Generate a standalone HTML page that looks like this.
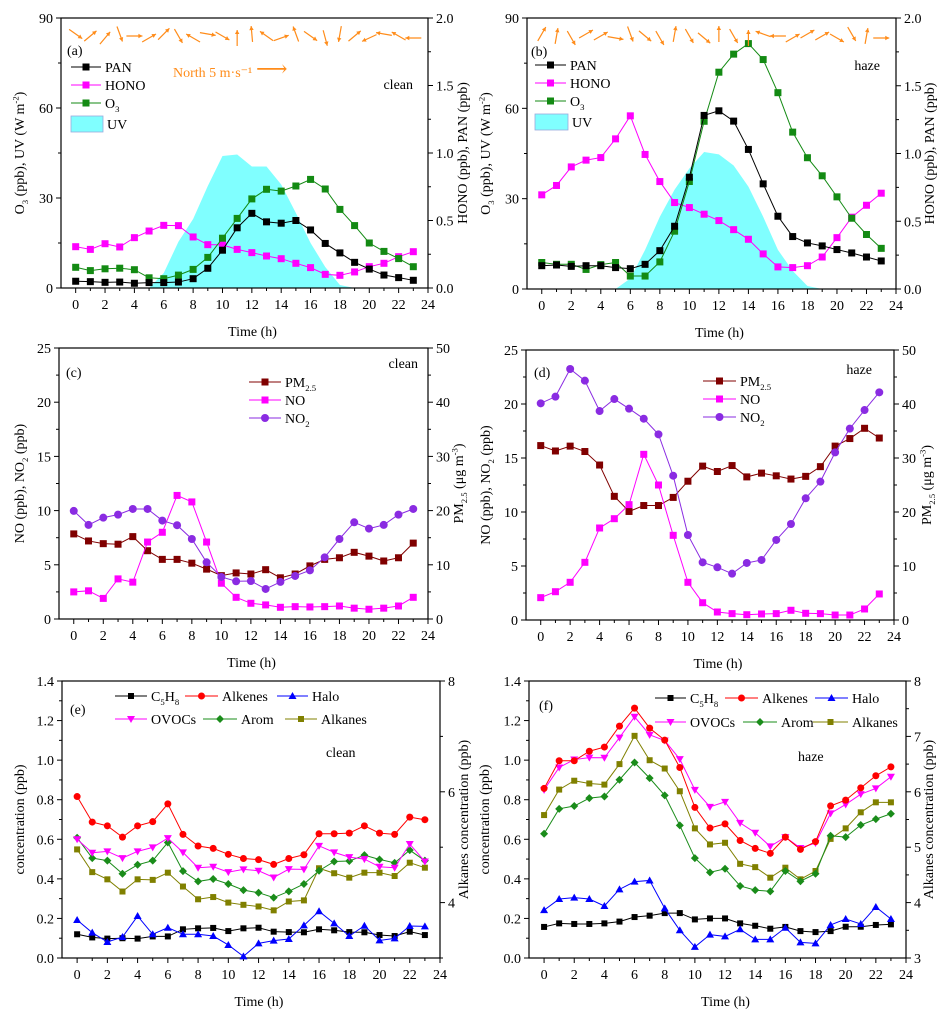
<!DOCTYPE html>
<html><head><meta charset="utf-8"><title>Diurnal profiles clean vs haze</title>
<style>
html,body{margin:0;padding:0;background:#fff;}
svg{display:block;font-family:"Liberation Serif","DejaVu Serif",serif;}
</style></head>
<body>
<svg id="fig" xmlns="http://www.w3.org/2000/svg" width="951" height="1018" viewBox="0 0 951 1018"></svg>
<script>
// ---------- data ----------
const hours = [0,1,2,3,4,5,6,7,8,9,10,11,12,13,14,15,16,17,18,19,20,21,22,23];
const uvHours = [5,6,7,8,9,10,11,12,13,14,15,16,17,18,19];
// panel a (clean)
const aPAN = [0.05,0.047,0.042,0.044,0.035,0.04,0.04,0.044,0.069,0.146,0.28,0.446,0.553,0.49,0.48,0.5,0.43,0.33,0.26,0.19,0.14,0.096,0.077,0.057];
const aHONO = [0.306,0.286,0.328,0.304,0.373,0.422,0.464,0.462,0.378,0.321,0.319,0.286,0.262,0.237,0.217,0.183,0.151,0.101,0.094,0.119,0.158,0.183,0.232,0.269];
const aO3 = [6.9,5.8,6.4,6.6,6.1,3.4,3.1,4.3,6.2,10.2,16.6,23.2,29.7,32.9,32.3,34,36.2,33,26.2,20.8,15,12.2,9.8,7.1];
const aUV = [0,5,15.4,23,34,44,44.5,40.5,40.5,34.5,25,15,7,1,0];
const aWind = [35,-40,-50,70,0,-30,-45,60,-150,10,30,-90,-95,-145,-20,-110,35,75,100,-40,155,-170,-150,180];
// panel b (haze)
const bPAN = [0.172,0.177,0.167,0.172,0.172,0.158,0.15,0.182,0.283,0.463,0.825,1.281,1.315,1.239,1.03,0.776,0.537,0.387,0.34,0.318,0.291,0.266,0.236,0.207];
const bHONO = [0.695,0.764,0.901,0.951,0.97,1.108,1.278,0.993,0.793,0.638,0.601,0.552,0.505,0.438,0.367,0.259,0.163,0.158,0.172,0.236,0.379,0.53,0.618,0.707];
const bO3 = [8.8,8.2,8.2,6.5,8.1,8.8,4.3,4.3,9.0,19.2,35.7,55.7,72,78,81.5,76.2,65.2,52.1,43.6,37.6,30.6,23.5,18.1,13.5];
const bUV = [0,3.5,13,24,33,40,45.5,44.7,41,34,24,13,6,1,0];
const bWind = [-60,-80,60,-30,-30,10,70,40,60,-80,60,40,-90,60,-90,-160,180,-30,-30,-30,30,60,-80,0];
// panel c (clean)
const cPM = [15.7,14.4,13.9,13.8,15.2,12.6,11,11,10.3,9.2,8,8.5,8.3,9.1,7.6,8.3,9.8,11,11.3,12.3,11.6,10.7,11.3,14];
const cNO = [2.5,2.6,1.9,3.7,3.4,7.1,8,11.4,10.8,7.1,3.3,2.0,1.45,1.3,1.08,1.14,1.11,1.14,1.2,1.0,0.9,1.0,1.2,2.0];
const cNO2 = [9.97,8.68,9.35,9.63,10.15,10.15,9.08,8.65,7.38,5.23,3.88,3.48,3.5,2.77,3.42,3.97,4.49,5.69,7.38,8.92,8.34,8.68,9.63,10.15];
// panel d (haze)
const dPM = [32.3,31.3,32.2,31.2,28.7,22.9,20.1,21.2,21.2,22.7,25.7,28.5,27.5,28.6,26.5,27.2,26.7,26.1,26.6,28.4,32.2,33.6,35.5,33.7];
const dNO = [2.07,2.62,3.49,5.34,8.52,9.38,10.68,15.34,12.5,7.84,3.49,1.6,0.74,0.59,0.49,0.56,0.59,0.9,0.62,0.59,0.46,0.46,1.02,2.41];
const dNO2 = [20.06,20.68,23.24,22.16,19.35,20.46,19.57,18.64,17.19,13.36,7.87,5.34,4.88,4.29,5.28,5.56,7.41,8.89,11.27,12.81,15.52,17.72,19.44,21.08];
// panel e (clean VOCs)
const eC5H8 = [0.12,0.104,0.098,0.1,0.098,0.109,0.109,0.145,0.15,0.152,0.136,0.15,0.153,0.133,0.131,0.13,0.145,0.14,0.131,0.13,0.116,0.111,0.133,0.116];
const eAlkenes = [0.816,0.687,0.668,0.611,0.668,0.689,0.779,0.625,0.566,0.554,0.524,0.503,0.497,0.473,0.503,0.522,0.628,0.628,0.631,0.668,0.631,0.625,0.712,0.699];
const eHalo = [0.192,0.128,0.081,0.106,0.212,0.12,0.153,0.12,0.12,0.111,0.066,0.008,0.074,0.088,0.096,0.165,0.236,0.175,0.111,0.163,0.089,0.099,0.162,0.16];
const eOVOCs = [0.6,0.532,0.539,0.505,0.539,0.559,0.606,0.534,0.456,0.461,0.434,0.448,0.441,0.407,0.449,0.448,0.567,0.534,0.51,0.5,0.461,0.456,0.576,0.488];
const eArom = [0.608,0.505,0.492,0.426,0.471,0.492,0.584,0.439,0.387,0.399,0.374,0.343,0.33,0.305,0.337,0.374,0.441,0.488,0.49,0.52,0.498,0.481,0.545,0.492];
const eAlkanes = [4.96,4.55,4.42,4.2,4.42,4.41,4.54,4.29,4.06,4.1,4.0,3.96,3.93,3.86,4.02,4.04,4.62,4.53,4.45,4.54,4.54,4.48,4.72,4.63];
// panel f (haze VOCs)
const fC5H8 = [0.157,0.175,0.172,0.172,0.175,0.184,0.207,0.214,0.227,0.227,0.195,0.2,0.2,0.175,0.163,0.148,0.157,0.136,0.131,0.136,0.158,0.158,0.167,0.17];
const fAlkenes = [0.857,0.997,0.997,1.045,1.066,1.172,1.263,1.162,1.101,0.963,0.761,0.657,0.678,0.594,0.554,0.529,0.611,0.549,0.588,0.769,0.798,0.86,0.921,0.966];
const fHalo = [0.242,0.298,0.305,0.298,0.263,0.347,0.386,0.392,0.251,0.14,0.056,0.118,0.109,0.145,0.094,0.094,0.153,0.079,0.074,0.167,0.197,0.172,0.258,0.197];
const fOVOCs = [0.85,0.963,1.003,1.013,1.012,1.114,1.219,1.128,1.099,1.005,0.85,0.764,0.789,0.683,0.633,0.564,0.611,0.556,0.581,0.731,0.776,0.828,0.857,0.916];
const fArom = [0.628,0.754,0.768,0.808,0.816,0.901,0.988,0.909,0.822,0.67,0.505,0.433,0.451,0.364,0.343,0.337,0.44,0.388,0.426,0.618,0.611,0.672,0.702,0.729];
const fAlkanes = [5.58,6.04,6.2,6.15,6.13,6.5,7.01,6.57,6.42,6.01,5.34,5.05,5.08,4.7,4.64,4.45,4.63,4.42,4.57,5.15,5.34,5.63,5.81,5.81];
const xTicks = [0,2,4,6,8,10,12,14,16,18,20,22,24];

// ---------- drawing ----------
const NS = "http://www.w3.org/2000/svg";
const svg = document.getElementById('fig');
function mk(tag, attrs, name, parent) {
  const el = document.createElementNS(NS, tag);
  for (const k in attrs) el.setAttribute(k, attrs[k]);
  
  
  (parent || svg).appendChild(el);
  return el;
}
function rich(parent, x, y, parts, size, attrs, name) {
  const t = mk('text', Object.assign({x: x, y: y, 'font-size': size}, attrs || {}), name, parent);
  parts.forEach(p => {
    const s = document.createElementNS(NS, 'tspan');
    if (p[1] === 'sub') { s.setAttribute('font-size', size * 0.62); s.setAttribute('dy', size * 0.3); }
    else if (p[1] === 'sup') { s.setAttribute('font-size', size * 0.62); s.setAttribute('dy', -size * 0.4); }
    else if (p[1] === 'back') { s.setAttribute('dy', p[2]); }
    s.textContent = p[0];
    t.appendChild(s);
  });
  return t;
}
function marker(g, type, x, y, s, color, name) {
  const h = s / 2;
  if (type === 'sq') return mk('rect', {x: x - h, y: y - h, width: s, height: s, fill: color}, name, g);
  if (type === 'ci') return mk('circle', {cx: x, cy: y, r: h + 0.5, fill: color}, name, g);
  if (type === 'tu') return mk('polygon', {points: `${x},${y - h - 1} ${x - h - 1},${y + h} ${x + h + 1},${y + h}`, fill: color}, name, g);
  if (type === 'td') return mk('polygon', {points: `${x},${y + h + 1} ${x - h - 1},${y - h} ${x + h + 1},${y - h}`, fill: color}, name, g);
  if (type === 'di') return mk('polygon', {points: `${x},${y - h - 1} ${x + h + 1},${y} ${x},${y + h + 1} ${x - h - 1},${y}`, fill: color}, name, g);
}
function fmt(v, d) { return d ? v.toFixed(d) : String(v); }

function panel(cfg) {
  const g = mk('g', {}, cfg.id, svg);
  const sx = v => cfg.L + (v - (-1)) / 25 * (cfg.R - cfg.L);
  const syL = v => cfg.B - (v - cfg.lmin) / (cfg.lmax - cfg.lmin) * (cfg.B - cfg.T);
  const syR = v => cfg.B - (v - cfg.rmin) / (cfg.rmax - cfg.rmin) * (cfg.B - cfg.T);
  // UV area
  if (cfg.uv) {
    let d = `M${sx(uvHours[0])},${syL(0)}`;
    uvHours.forEach((h, i) => { d += ` L${sx(h)},${syL(cfg.uv[i])}`; });
    d += ` L${sx(uvHours[uvHours.length - 1])},${syL(0)} Z`;
    mk('path', {d: d, fill: '#80ffff', stroke: 'none'}, 'uv-area', g);
  }
  // frame
  mk('rect', {x: cfg.L, y: cfg.T, width: cfg.R - cfg.L, height: cfg.B - cfg.T, fill: 'none', stroke: '#000', 'stroke-width': 1.2}, 'plot-frame', g);
  // x ticks
  for (let h = 0; h <= 24; h++) {
    const major = h % 2 === 0;
    mk('line', {x1: sx(h), x2: sx(h), y1: cfg.B, y2: cfg.B + (major ? 5 : 3), stroke: '#000', 'stroke-width': 1}, 'x-tick', g);
  }
  xTicks.forEach(t => {
    const el = mk('text', {x: sx(t), y: cfg.B + 21, 'font-size': 14, 'text-anchor': 'middle'}, 'x-tick-label', g);
    el.textContent = t;
  });
  const xt = mk('text', {x: (cfg.L + cfg.R) / 2 + 8, y: cfg.B + 48, 'font-size': 14, 'text-anchor': 'middle', 'font-weight': 'normal'}, 'x-axis-title', g);
  xt.textContent = 'Time (h)';
  // left ticks
  for (let v = cfg.lmin; v <= cfg.lmax + 1e-9; v += cfg.lminor) {
    const isMaj = Math.abs(Math.round((v - cfg.lmin) / cfg.lstep) * cfg.lstep - (v - cfg.lmin)) < 1e-6;
    mk('line', {x1: cfg.L, x2: cfg.L - (isMaj ? 5 : 3), y1: syL(v), y2: syL(v), stroke: '#000'}, 'y-left-tick', g);
    if (isMaj) {
      const el = mk('text', {x: cfg.L - 8, y: syL(v) + 5, 'font-size': 14, 'text-anchor': 'end'}, 'y-left-tick-label', g);
      el.textContent = fmt(v, cfg.ldec);
    }
  }
  for (let v = cfg.rmin; v <= cfg.rmax + 1e-9; v += cfg.rminor) {
    const isMaj = cfg.rlabels.some(l => Math.abs(l - v) < 1e-6);
    mk('line', {x1: cfg.R, x2: cfg.R + (isMaj ? 5 : 3), y1: syR(v), y2: syR(v), stroke: '#000'}, 'y-right-tick', g);
    if (isMaj) {
      const el = mk('text', {x: cfg.R + 8, y: syR(v) + 5, 'font-size': 14}, 'y-right-tick-label', g);
      el.textContent = fmt(v, cfg.rdec);
    }
  }
  // axis titles
  rich(g, 0, 0, cfg.ltitle, 14, {transform: `translate(${cfg.ltx},${(cfg.T + cfg.B) / 2}) rotate(-90)`, 'text-anchor': 'middle'}, 'y-left-axis-title');
  rich(g, 0, 0, cfg.rtitle, 14, {transform: `translate(${cfg.rtx},${(cfg.T + cfg.B) / 2}) rotate(-90)`, 'text-anchor': 'middle'}, 'y-right-axis-title');
  // series
  cfg.series.forEach(s => {
    const sy = s.axis === 'r' ? syR : syL;
    const pts = hours.map((h, i) => `${sx(h)},${sy(s.data[i])}`).join(' ');
    const sg = mk('g', {}, s.name + '-series', g);
    mk('polyline', {points: pts, fill: 'none', stroke: s.color, 'stroke-width': 1}, s.name + '-line', sg);
    hours.forEach((h, i) => marker(sg, s.mk, sx(h), sy(s.data[i]), cfg.ms, s.color, s.name + '-point'));
  });
  // wind arrows
  if (cfg.wind) {
    const wg = mk('g', {}, 'wind-arrows', g);
    hours.forEach((h, i) => {
      const a = cfg.wind[i] * Math.PI / 180, len = 8;
      const cx = sx(h), cy = cfg.T + 16 + (i % 3) * 2;
      const x1 = cx - Math.cos(a) * len, y1 = cy - Math.sin(a) * len, x2 = cx + Math.cos(a) * len, y2 = cy + Math.sin(a) * len;
      mk('line', {x1: x1, y1: y1, x2: x2, y2: y2, stroke: '#ff8c1a', 'stroke-width': 1.2}, 'wind-arrow', wg);
      const hx = x2 - Math.cos(a) * 4, hy = y2 - Math.sin(a) * 4;
      mk('polygon', {points: `${x2},${y2} ${hx - Math.sin(a) * 2.2},${hy + Math.cos(a) * 2.2} ${hx + Math.sin(a) * 2.2},${hy - Math.cos(a) * 2.2}`, fill: '#ff8c1a'}, 'wind-arrow-head', wg);
    });
  }
  // legend
  cfg.legend.forEach(l => {
    const lg = mk('g', {}, 'legend-entry', g);
    if (l.box) {
      mk('rect', {x: l.x1, y: l.y - 8, width: l.x2 - l.x1, height: 16, fill: '#80ffff', stroke: '#9ad', 'stroke-width': 0.8}, 'legend-swatch', lg);
    } else {
      mk('line', {x1: l.x1, x2: l.x2, y1: l.y, y2: l.y, stroke: l.color}, 'legend-line', lg);
      marker(lg, l.mk, (l.x1 + l.x2) / 2, l.y, cfg.ms, l.color, 'legend-marker');
    }
    rich(lg, l.x2 + 4, l.y + 5, l.label, 14, {}, 'legend-label');
  });
  // annotations
  cfg.notes.forEach(n => {
    const el = mk('text', {x: n.x, y: n.y, 'font-size': n.size || 14, 'text-anchor': n.anchor || 'start', fill: n.color || '#000'}, n.name, g);
    el.textContent = n.text;
  });
}

const O3T = [['O'], ['3', 'sub'], [' (ppb), UV (W m', 'back', -4.3], ['-2', 'sup'], [')', 'back', 5.6]];
const HPT = [['HONO (ppb), PAN (ppb)']];
const NOT = [['NO (ppb), NO'], ['2', 'sub'], [' (ppb)', 'back', -4.3]];
const PMT = [['PM'], ['2.5', 'sub'], [' (μg m', 'back', -4.3], ['-3', 'sup'], [')', 'back', 5.6]];
const CT = [['concentration (ppb)']];
const AKT = [['Alkanes concentration (ppb)']];
function legAB(x1, x2, y0) {
  return [
    {x1: x1, x2: x2, y: y0, color: '#000', mk: 'sq', label: [['PAN']]},
    {x1: x1, x2: x2, y: y0 + 18, color: '#ff00ff', mk: 'sq', label: [['HONO']]},
    {x1: x1, x2: x2, y: y0 + 36, color: '#138a13', mk: 'sq', label: [['O'], ['3', 'sub']]},
    {x1: x1, x2: x2 + 2, y: y0 + 57, box: true, label: [['UV']]}
  ];
}
function legCD(x1, x2, y0) {
  return [
    {x1: x1, x2: x2, y: y0, color: '#800000', mk: 'sq', label: [['PM'], ['2.5', 'sub']]},
    {x1: x1, x2: x2, y: y0 + 18, color: '#ff00ff', mk: 'sq', label: [['NO']]},
    {x1: x1, x2: x2, y: y0 + 36, color: '#8a2be2', mk: 'ci', label: [['NO'], ['2', 'sub']]}
  ];
}
function legEF(c, r1, r2) {
  return [
    {x1: c[0], x2: c[1], y: r1, color: '#000', mk: 'sq', label: [['C'], ['5', 'sub'], ['H', 'back', -4.3], ['8', 'sub']]},
    {x1: c[2], x2: c[3], y: r1, color: '#ff0000', mk: 'ci', label: [['Alkenes']]},
    {x1: c[4], x2: c[5], y: r1, color: '#0000ff', mk: 'tu', label: [['Halo']]},
    {x1: c[0], x2: c[1], y: r2, color: '#ff00ff', mk: 'td', label: [['OVOCs']]},
    {x1: c[6], x2: c[7], y: r2, color: '#1a8c1a', mk: 'di', label: [['Arom']]},
    {x1: c[8], x2: c[9], y: r2, color: '#808000', mk: 'sq', label: [['Alkanes']]}
  ];
}
function abSeries(pan, hono, o3) {
  return [
    {name: 'hono', data: hono, axis: 'r', color: '#ff00ff', mk: 'sq'},
    {name: 'o3', data: o3, axis: 'l', color: '#138a13', mk: 'sq'},
    {name: 'pan', data: pan, axis: 'r', color: '#000', mk: 'sq'}
  ];
}
function cdSeries(pm, no, no2) {
  return [
    {name: 'pm25', data: pm, axis: 'r', color: '#800000', mk: 'sq'},
    {name: 'no', data: no, axis: 'l', color: '#ff00ff', mk: 'sq'},
    {name: 'no2', data: no2, axis: 'l', color: '#8a2be2', mk: 'ci'}
  ];
}
function efSeries(c5, ak, ha, ov, ar, al) {
  return [
    {name: 'alkanes', data: al, axis: 'r', color: '#808000', mk: 'sq'},
    {name: 'arom', data: ar, axis: 'l', color: '#1a8c1a', mk: 'di'},
    {name: 'ovocs', data: ov, axis: 'l', color: '#ff00ff', mk: 'td'},
    {name: 'alkenes', data: ak, axis: 'l', color: '#ff0000', mk: 'ci'},
    {name: 'c5h8', data: c5, axis: 'l', color: '#000', mk: 'sq'},
    {name: 'halo', data: ha, axis: 'l', color: '#0000ff', mk: 'tu'}
  ];
}

panel({id: 'panel-a', L: 61, R: 428, T: 18, B: 288, lmin: 0, lmax: 90, lstep: 30, lminor: 15, ldec: 0,
  rmin: 0, rmax: 2, rminor: 0.25, rlabels: [0, 0.5, 1, 1.5, 2], rdec: 1, ltx: 24, rtx: 467, ltitle: O3T, rtitle: HPT,
  uv: aUV, wind: aWind, ms: 7, series: abSeries(aPAN, aHONO, aO3), legend: legAB(71, 101, 67),
  notes: [{x: 67, y: 55, text: '(a)', name: 'panel-label-a'}, {x: 413, y: 89, text: 'clean', anchor: 'end', name: 'condition-label'},
    {x: 173, y: 77, text: 'North 5 m·s⁻¹', color: '#ff8c1a', name: 'wind-scale-label'}, {x: 256, y: 76, text: '⟶', color: '#ff8c1a', size: 22, name: 'wind-scale-arrow'}]});
panel({id: 'panel-b', L: 527, R: 896, T: 18, B: 289, lmin: 0, lmax: 90, lstep: 30, lminor: 15, ldec: 0,
  rmin: 0, rmax: 2, rminor: 0.25, rlabels: [0, 0.5, 1, 1.5, 2], rdec: 1, ltx: 490, rtx: 934, ltitle: O3T, rtitle: HPT,
  uv: bUV, wind: bWind, ms: 7, series: abSeries(bPAN, bHONO, bO3), legend: legAB(535, 566, 65),
  notes: [{x: 531, y: 56, text: '(b)', name: 'panel-label-b'}, {x: 880, y: 70, text: 'haze', anchor: 'end', name: 'condition-label'}]});
panel({id: 'panel-c', L: 59, R: 428, T: 348, B: 619, lmin: 0, lmax: 25, lstep: 5, lminor: 2.5, ldec: 0,
  rmin: 0, rmax: 50, rminor: 5, rlabels: [0, 10, 20, 30, 40, 50], rdec: 0, ltx: 24, rtx: 463, ltitle: NOT, rtitle: PMT,
  ms: 7, series: cdSeries(cPM, cNO, cNO2), legend: legCD(249, 281, 382),
  notes: [{x: 66, y: 377, text: '(c)', name: 'panel-label-c'}, {x: 418, y: 368, text: 'clean', anchor: 'end', name: 'condition-label'}]});
panel({id: 'panel-d', L: 526, R: 894, T: 350, B: 620, lmin: 0, lmax: 25, lstep: 5, lminor: 2.5, ldec: 0,
  rmin: 0, rmax: 50, rminor: 5, rlabels: [0, 10, 20, 30, 40, 50], rdec: 0, ltx: 490, rtx: 931, ltitle: NOT, rtitle: PMT,
  ms: 7, series: cdSeries(dPM, dNO, dNO2), legend: legCD(703, 736, 381),
  notes: [{x: 534, y: 377, text: '(d)', name: 'panel-label-d'}, {x: 872, y: 374, text: 'haze', anchor: 'end', name: 'condition-label'}]});
panel({id: 'panel-e', L: 62, R: 440, T: 681, B: 958, lmin: 0, lmax: 1.4, lstep: 0.2, lminor: 0.1, ldec: 1,
  rmin: 3, rmax: 8, rminor: 1, rlabels: [4, 6, 8], rdec: 0, ltx: 24, rtx: 468, ltitle: CT, rtitle: AKT,
  ms: 6, series: efSeries(eC5H8, eAlkenes, eHalo, eOVOCs, eArom, eAlkanes),
  legend: legEF([115, 147, 185, 218, 277, 308, 203, 237, 285, 317], 696, 719),
  notes: [{x: 70, y: 714, text: '(e)', name: 'panel-label-e'}, {x: 326, y: 757, text: 'clean', name: 'condition-label'}]});
panel({id: 'panel-f', L: 529, R: 906, T: 681, B: 958, lmin: 0, lmax: 1.4, lstep: 0.2, lminor: 0.1, ldec: 1,
  rmin: 3, rmax: 8, rminor: 0.5, rlabels: [3, 4, 5, 6, 7, 8], rdec: 0, ltx: 489, rtx: 933, ltitle: CT, rtitle: AKT,
  ms: 6, series: efSeries(fC5H8, fAlkenes, fHalo, fOVOCs, fArom, fAlkanes),
  legend: legEF([655, 686, 725, 758, 815, 848, 743, 777, 813, 848], 698, 722),
  notes: [{x: 539, y: 710, text: '(f)', name: 'panel-label-f'}, {x: 798, y: 761, text: 'haze', name: 'condition-label'}]});
</script>
</body></html>
